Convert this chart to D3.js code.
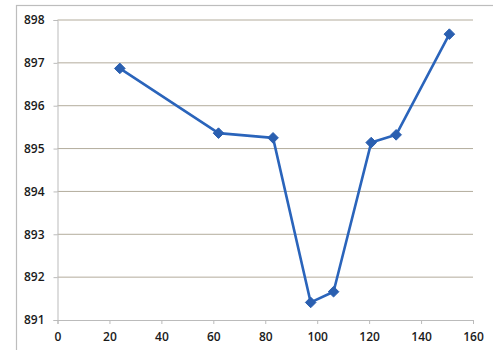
<!DOCTYPE html>
<html>
<head>
<meta charset="utf-8">
<script src="https://cdn.jsdelivr.net/npm/d3@7"></script>
<style>
  html, body { margin: 0; padding: 0; background: #fff; }
  svg { display: block; }
  .tick text { font-family: "Open Sans", "Liberation Sans", sans-serif; font-size: 12px; font-weight: 600; fill: #1a1a1a; }
</style>
</head>
<body>
<svg id="chart" width="493" height="350"></svg>
<script>
// Measurement series
const xValues = [24, 62, 83, 97.5, 106.3, 120.8, 130.4, 150.9];
const yValues = [896.87, 895.36, 895.25, 891.41, 891.66, 895.14, 895.32, 897.67];
const xTicks = [0, 20, 40, 60, 80, 100, 120, 140, 160];
const yTicks = [891, 892, 893, 894, 895, 896, 897, 898];

const svg = d3.select("#chart");
const W = 493, H = 350;
const margin = { left: 57.5, right: 20, top: 20, bottom: 30 };

const x = d3.scaleLinear().domain([0, 160]).range([margin.left, W - margin.right]);
const y = d3.scaleLinear().domain([891, 898]).range([H - margin.bottom, margin.top]);

// Chart frame
svg.append("rect")
  .attr("x", 16.5).attr("y", 5.5)
  .attr("width", W - 10).attr("height", H)
  .attr("fill", "none").attr("stroke", "#bdbdbd").attr("stroke-width", 1.2);

// Horizontal gridlines
svg.append("g")
  .selectAll("line")
  .data(yTicks.filter(d => d !== 891))
  .join("line")
  .attr("x1", x(0)).attr("x2", x(160))
  .attr("y1", d => y(d)).attr("y2", d => y(d))
  .attr("stroke", "#b3ac9c").attr("stroke-width", 1);

// Y axis
const yAxis = svg.append("g")
  .attr("transform", `translate(${x(0)},0)`)
  .call(d3.axisLeft(y).tickValues(yTicks).tickFormat(d3.format("d")).tickSize(4).tickPadding(9));
yAxis.select(".domain").attr("stroke", "#bbb");
yAxis.selectAll(".tick line").attr("stroke", "#bbb");

// X axis
const xAxis = svg.append("g")
  .attr("transform", `translate(0,${y(891)})`)
  .call(d3.axisBottom(x).tickValues(xTicks).tickFormat(d3.format("d")).tickSize(4).tickPadding(8));
xAxis.select(".domain").attr("stroke", "#bbb");
xAxis.selectAll(".tick line").attr("stroke", "#bbb");

const pts = xValues.map((v, i) => [v, yValues[i]]);

// Series line
svg.append("path")
  .datum(pts)
  .attr("fill", "none")
  .attr("stroke", "#2a64bb")
  .attr("stroke-width", 2.6)
  .attr("stroke-linejoin", "round")
  .attr("d", d3.line().x(d => x(d[0])).y(d => y(d[1])));

// Diamond markers
svg.append("g")
  .selectAll("path")
  .data(pts)
  .join("path")
  .attr("transform", d => `translate(${x(d[0])},${y(d[1])})`)
  .attr("d", d3.symbol(d3.symbolDiamond2, 72))
  .attr("fill", "#2a5fb0")
  .attr("stroke", "#2a5fb0")
  .attr("stroke-width", 1);
</script>
</body>
</html>
